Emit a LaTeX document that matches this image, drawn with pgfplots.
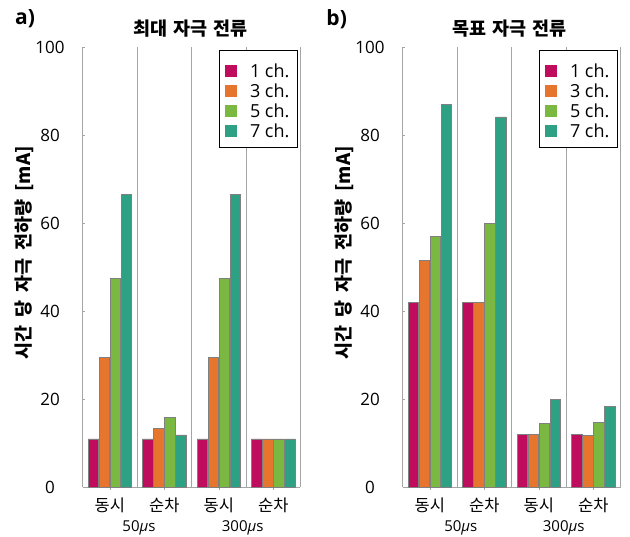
\documentclass[border=0pt]{standalone}
\usepackage{fontspec}
\setmainfont{Open Sans}
\newfontfamily\kr{Noto Sans CJK KR}
\usepackage{pgfplots}
\usepackage{pgfplotstable}
\pgfplotsset{compat=1.18}
\definecolor{cA}{RGB}{192,12,92}
\definecolor{cB}{RGB}{230,118,46}
\definecolor{cC}{RGB}{122,184,66}
\definecolor{cD}{RGB}{46,160,132}
\definecolor{gridc}{RGB}{165,165,165}

\pgfplotstableread{
x c1 c3 c5 c7
0 11 29.5 47.5 66.6
1 11 13.4 15.9 11.9
2 11 29.5 47.5 66.6
3 11 11 11 11
}\dataA
\pgfplotstableread{
x c1 c3 c5 c7
0 42 51.6 57 87
1 42 42 60 84.1
2 12 12 14.5 20
3 12 11.8 14.7 18.3
}\dataB

\newcommand{\ws}{\hspace{8pt}}
\newcommand{\legtxt}[1]{#1\hspace{6pt}}

\pgfplotsset{
  panel/.style={
    scale only axis, width=217.8pt, height=440.3pt,
    xmin=-0.5, xmax=3.5, ymin=0, ymax=100,
    ybar=0.6pt, bar width=10.4pt,
    axis x line*=bottom, axis y line*=left,
    axis line style={draw=gridc, line width=0.9pt},
    xtick={0,1,2,3}, xticklabels={동시,순차,동시,순차},
    ytick={0,20,40,60,80,100},
    minor xtick={0.5,1.5,2.5,3.5}, xminorgrids=true,
    minor grid style={draw=gridc, line width=0.9pt},
    minor tick length=0pt,
    tick align=inside, major tick length=2pt,
    tick style={draw=gridc, line width=0.6pt},
    xtick style={yshift=-2.5pt},
    /pgf/number format/assume math mode=true,
    xticklabel style={anchor=center, yshift=-17.7pt, font=\kr\fontsize{16.5}{16.5}\selectfont},
    yticklabel style={anchor=center, xshift=-32.7pt, font=\fontsize{17}{17}\selectfont},
    legend style={at={(rel axis cs:1,1)}, anchor=north east, xshift=-2.7pt, yshift=-3pt,
      draw=black, line width=0.8pt, fill=white,
      font=\fontsize{18}{18}\selectfont, inner xsep=6pt, inner ysep=8.75pt,
      row sep=0pt,
      nodes={inner xsep=2pt, inner ysep=1.8pt, text height=16.4pt, text depth=0pt, anchor=base west},
      /tikz/every odd column/.append style={column sep=11pt},
      /tikz/every even column/.append style={column sep=0pt}},
    legend image code/.code={\fill[##1,draw=none] (0pt,0.5pt) rectangle (11.7pt,12.2pt);},
    every axis plot/.append style={draw=black!50, line width=0.6pt},
  }
}

\begin{document}
\begin{tikzpicture}
\path[use as bounding box] (0,0) rectangle (630pt,537pt);

\begin{axis}[panel, at={(82.7pt,49.7pt)}, anchor=south west]
\addplot[fill=cA] table[x=x,y=c1]{\dataA};
\addplot[fill=cB] table[x=x,y=c3]{\dataA};
\addplot[fill=cC] table[x=x,y=c5]{\dataA};
\addplot[fill=cD] table[x=x,y=c7]{\dataA};
\legend{\legtxt{1 ch.},\legtxt{3 ch.},\legtxt{5 ch.},\legtxt{7 ch.}}
\end{axis}

\begin{axis}[panel, at={(402.7pt,49.7pt)}, anchor=south west]
\addplot[fill=cA] table[x=x,y=c1]{\dataB};
\addplot[fill=cB] table[x=x,y=c3]{\dataB};
\addplot[fill=cC] table[x=x,y=c5]{\dataB};
\addplot[fill=cD] table[x=x,y=c7]{\dataB};
\legend{\legtxt{1 ch.},\legtxt{3 ch.},\legtxt{5 ch.},\legtxt{7 ch.}}
\end{axis}

% panel letters and titles
\node[font=\bfseries\fontsize{21}{21}\selectfont] at (25pt,518.3pt) {a)};
\node[font=\bfseries\fontsize{21}{21}\selectfont] at (336.7pt,518.3pt) {b)};
\node[font=\kr\bfseries\fontsize{18.5}{18.5}\selectfont] at (190.3pt,508.3pt) {최대\hspace{6pt}자극\hspace{6pt}전류};
\node[font=\kr\bfseries\fontsize{18.5}{18.5}\selectfont] at (509.3pt,508.3pt) {목표\hspace{6pt}자극\hspace{6pt}전류};
% y labels
\node[rotate=90, font=\kr\bfseries\fontsize{18.5}{18.5}\selectfont] at (24pt,284pt) {시간\ws 당\ws 자극\ws 전하량\ws [mA]};
\node[rotate=90, font=\kr\bfseries\fontsize{18.5}{18.5}\selectfont] at (344pt,284pt) {시간\ws 당\ws 자극\ws 전하량\ws [mA]};
% second-level x labels
\node[font=\fontsize{15}{15}\selectfont] at (139pt,9pt) {50\textit{μ}s};
\node[font=\fontsize{15}{15}\selectfont] at (242.7pt,9pt) {300\textit{μ}s};
\node[font=\fontsize{15}{15}\selectfont] at (460.8pt,9pt) {50\textit{μ}s};
\node[font=\fontsize{15}{15}\selectfont] at (563.7pt,9pt) {300\textit{μ}s};
\end{tikzpicture}
\end{document}
